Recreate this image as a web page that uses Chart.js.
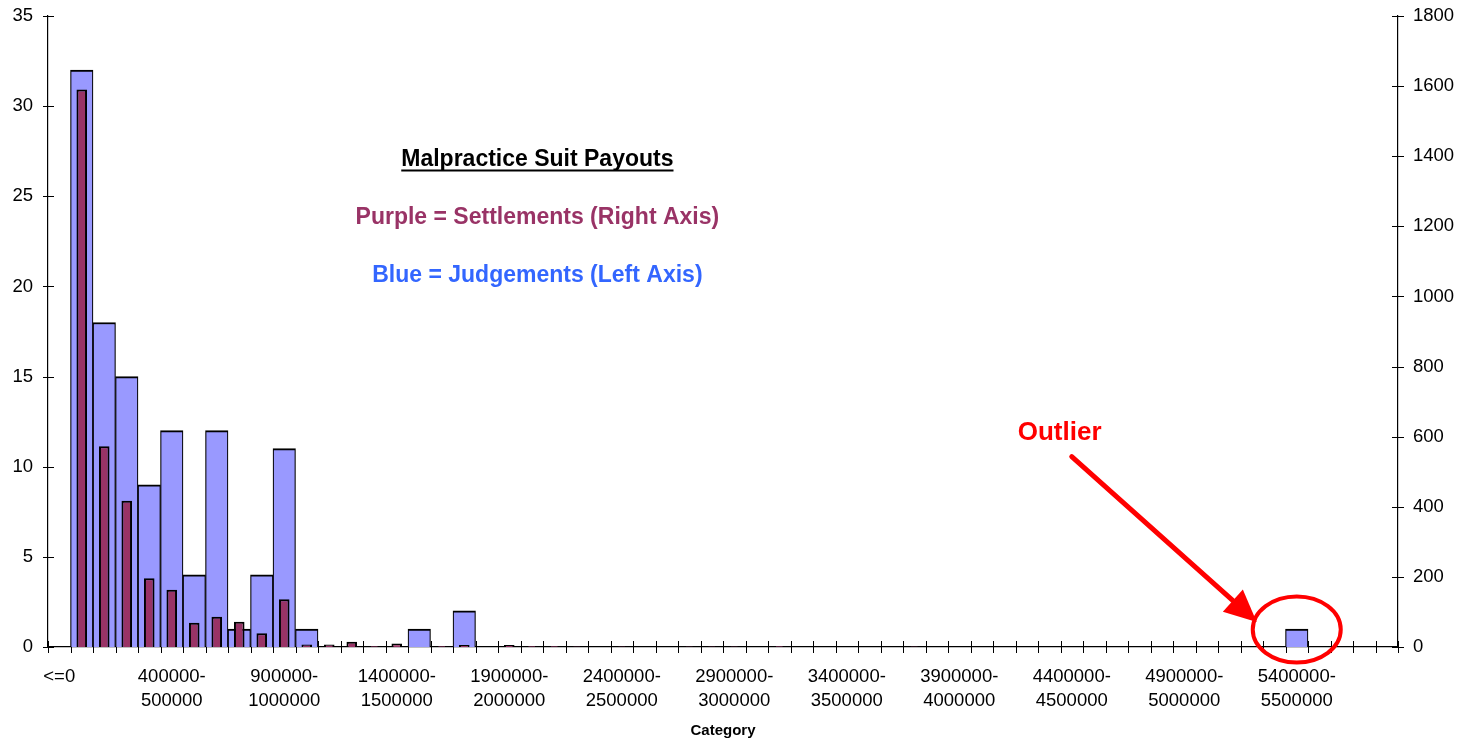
<!DOCTYPE html>
<html>
<head>
<meta charset="utf-8">
<title>Malpractice Suit Payouts</title>
<script src="https://cdn.jsdelivr.net/npm/chart.js@4/dist/chart.umd.min.js"></script>
<style>
  html, body { margin: 0; padding: 0; background: #fff; }
  #wrap { width: 1467px; height: 740px; position: relative; }
</style>
</head>
<body>
<div id="wrap"><canvas id="chart"></canvas></div>
<script>
// payout bins (100000 wide), only every 5th one gets a label
const categories = [
    '<=0', '0-100000', '100000-200000', '200000-300000', '300000-400000',
    '400000-500000', '500000-600000', '600000-700000', '700000-800000', '800000-900000',
    '900000-1000000', '1000000-1100000', '1100000-1200000', '1200000-1300000', '1300000-1400000',
    '1400000-1500000', '1500000-1600000', '1600000-1700000', '1700000-1800000', '1800000-1900000',
    '1900000-2000000', '2000000-2100000', '2100000-2200000', '2200000-2300000', '2300000-2400000',
    '2400000-2500000', '2500000-2600000', '2600000-2700000', '2700000-2800000', '2800000-2900000',
    '2900000-3000000', '3000000-3100000', '3100000-3200000', '3200000-3300000', '3300000-3400000',
    '3400000-3500000', '3500000-3600000', '3600000-3700000', '3700000-3800000', '3800000-3900000',
    '3900000-4000000', '4000000-4100000', '4100000-4200000', '4200000-4300000', '4300000-4400000',
    '4400000-4500000', '4500000-4600000', '4600000-4700000', '4700000-4800000', '4800000-4900000',
    '4900000-5000000', '5000000-5100000', '5100000-5200000', '5200000-5300000', '5300000-5400000',
    '5400000-5500000', '5500000-5600000', '5600000-5700000', '5700000-5800000', '5800000-5900000'
];

// Blue = Judgements (left axis)
const judgements = [
    0, 32, 18, 15, 9, 12, 4, 12, 1, 4,
    11, 1, 0, 0, 0, 0, 1, 0, 2, 0,
    0, 0, 0, 0, 0, 0, 0, 0, 0, 0,
    0, 0, 0, 0, 0, 0, 0, 0, 0, 0,
    0, 0, 0, 0, 0, 0, 0, 0, 0, 0,
    0, 0, 0, 0, 0, 1, 0, 0, 0, 0
];

// Purple = Settlements (right axis)
const settlements = [
    0, 1590, 573, 417, 196, 163, 69, 86, 72, 39,
    136, 7, 7, 15, 3, 10, 0, 3, 6, 0,
    6, 3, 3, 2, 0, 2, 0, 0, 2, 2,
    2, 0, 3, 0, 0, 0, 0, 0, 2, 0,
    0, 0, 0, 0, 0, 0, 0, 0, 0, 0,
    0, 0, 0, 0, 0, 0, 0, 0, 0, 0
];

const leftTicks = { min: 0, max: 35, step: 5 };
const rightTicks = { min: 0, max: 1800, step: 200 };
const labelEvery = 5;

const FONT = "'Liberation Sans', Arial, sans-serif";

// Excel style "cross" tick marks on all three axes
const crossTicks = {
    id: 'crossTicks',
    beforeDatasetsDraw(chart) {
        const { ctx, scales: { x, y, y1 } } = chart;
        ctx.save();
        ctx.strokeStyle = '#000';
        ctx.lineWidth = 1;
        ctx.beginPath();
        for (let i = 0; i <= categories.length; i++) {
            const px = Math.round(x.getPixelForValue(i - 0.5)) + 0.5;
            ctx.moveTo(px, y.bottom - 6);
            ctx.lineTo(px, y.bottom + 6);
        }
        y.ticks.forEach((t, i) => {
            const py = Math.round(y.getPixelForTick(i)) + 0.5;
            ctx.moveTo(y.right - 5, py);
            ctx.lineTo(y.right + 6, py);
        });
        y1.ticks.forEach((t, i) => {
            const py = Math.round(y1.getPixelForTick(i)) + 0.5;
            ctx.moveTo(y1.left - 6, py);
            ctx.lineTo(y1.left + 6, py);
        });
        ctx.stroke();
        ctx.restore();
    }
};

// text boxes, arrow and circle drawn on top
const notes = {
    id: 'notes',
    afterDraw(chart) {
        const { ctx, scales: { x, y } } = chart;
        ctx.save();
        ctx.textAlign = 'center';
        ctx.textBaseline = 'alphabetic';

        const cx = x.getPixelForValue(21.25);

        // title, underlined
        ctx.font = 'bold 23px ' + FONT;
        ctx.fillStyle = '#000';
        const ty = y.getPixelForValue(26.68);
        ctx.fillText('Malpractice Suit Payouts', cx, ty);
        const tw = ctx.measureText('Malpractice Suit Payouts').width;
        ctx.fillRect(cx - tw / 2, ty + 3.5, tw, 2);

        ctx.fillStyle = '#993366';
        ctx.fillText('Purple = Settlements (Right Axis)', cx, y.getPixelForValue(23.44));

        ctx.fillStyle = '#3366FF';
        ctx.fillText('Blue = Judgements (Left Axis)', cx, y.getPixelForValue(20.24));

        // outlier callout
        ctx.fillStyle = '#FF0000';
        ctx.strokeStyle = '#FF0000';
        ctx.font = 'bold 26px ' + FONT;
        ctx.fillText('Outlier', x.getPixelForValue(44.46), y.getPixelForValue(11.5));

        const x0 = x.getPixelForValue(45.0), y0 = y.getPixelForValue(10.56);
        const x1 = x.getPixelForValue(53.22), y1p = y.getPixelForValue(1.39);
        const len = Math.hypot(x1 - x0, y1p - y0);
        const ux = (x1 - x0) / len, uy = (y1p - y0) / len;
        const headLen = 32, headW = 15;
        const bx = x1 - ux * headLen, by = y1p - uy * headLen;
        ctx.lineWidth = 5;
        ctx.lineCap = 'round';
        ctx.beginPath();
        ctx.moveTo(x0, y0);
        ctx.lineTo(bx + ux * 2, by + uy * 2);
        ctx.stroke();
        ctx.beginPath();
        ctx.moveTo(x1, y1p);
        ctx.lineTo(bx - uy * headW, by + ux * headW);
        ctx.lineTo(bx + uy * headW, by - ux * headW);
        ctx.closePath();
        ctx.fill();

        ctx.lineWidth = 4;
        ctx.beginPath();
        ctx.ellipse(x.getPixelForValue(55), y.getPixelForValue(0.97), 44, 33, 0, 0, Math.PI * 2);
        ctx.stroke();

        ctx.restore();
    }
};

// fixed axis boxes so the plot area sits where the original has it
function fixWidth(w) {
    return function(scale) {
        scale.width = w;
        scale.paddingTop = 0;
        scale.paddingBottom = 0;
    };
}

const ctx = document.getElementById('chart').getContext('2d');
const chart = new Chart(ctx, {
    type: 'bar',
    data: {
        labels: categories,
        datasets: [
            {
                label: 'Settlements',
                data: settlements,
                yAxisID: 'y1',
                backgroundColor: '#993366',
                borderColor: '#000',
                borderWidth: 2,
                grouped: false,
                barPercentage: 0.47,
                categoryPercentage: 1,
                order: 0
            },
            {
                label: 'Judgements',
                data: judgements,
                yAxisID: 'y',
                backgroundColor: '#9999FF',
                borderColor: '#000',
                borderWidth: { top: 2, left: 1.2, right: 1.2, bottom: 0 },
                grouped: false,
                barPercentage: 1,
                categoryPercentage: 1,
                order: 1
            }
        ]
    },
    options: {
        responsive: true,
        maintainAspectRatio: false,
        animation: false,
        layout: { padding: { top: 16, left: 0, right: 0, bottom: 0 } },
        plugins: {
            legend: { display: false },
            tooltip: { enabled: false }
        },
        scales: {
            x: {
                offset: true,
                grid: { display: false, drawTicks: false },
                border: { display: true, color: '#000', width: 1.2 },
                ticks: {
                    autoSkip: false,
                    maxRotation: 0,
                    minRotation: 0,
                    padding: 18,
                    color: '#000',
                    font: { family: FONT, size: 18.5, lineHeight: 1.28 },
                    callback: function(val, i) {
                        if (i % labelEvery !== 0) return '';
                        const lab = categories[i];
                        const cut = lab.indexOf('-');
                        return cut < 0 ? lab : [lab.slice(0, cut + 1), lab.slice(cut + 1)];
                    }
                },
                title: {
                    display: true,
                    text: 'Category',
                    color: '#000',
                    font: { family: FONT, size: 15, weight: 'bold' },
                    padding: { top: 0, bottom: 0 }
                },
                afterFit: function(scale) { scale.height = 93; }
            },
            y: {
                position: 'left',
                min: leftTicks.min,
                max: leftTicks.max,
                grid: { display: false, drawTicks: false },
                border: { display: true, color: '#000', width: 1.2 },
                ticks: {
                    stepSize: leftTicks.step,
                    padding: 15,
                    color: '#000',
                    font: { family: FONT, size: 18.5 }
                },
                afterFit: fixWidth(48)
            },
            y1: {
                position: 'right',
                min: rightTicks.min,
                max: rightTicks.max,
                grid: { display: false, drawTicks: false },
                border: { display: true, color: '#000', width: 1.2 },
                ticks: {
                    stepSize: rightTicks.step,
                    padding: 15,
                    color: '#000',
                    font: { family: FONT, size: 18.5 },
                    callback: function(val) { return String(val); }
                },
                afterFit: fixWidth(69)
            }
        }
    },
    plugins: [crossTicks, notes]
});
</script>
</body>
</html>
